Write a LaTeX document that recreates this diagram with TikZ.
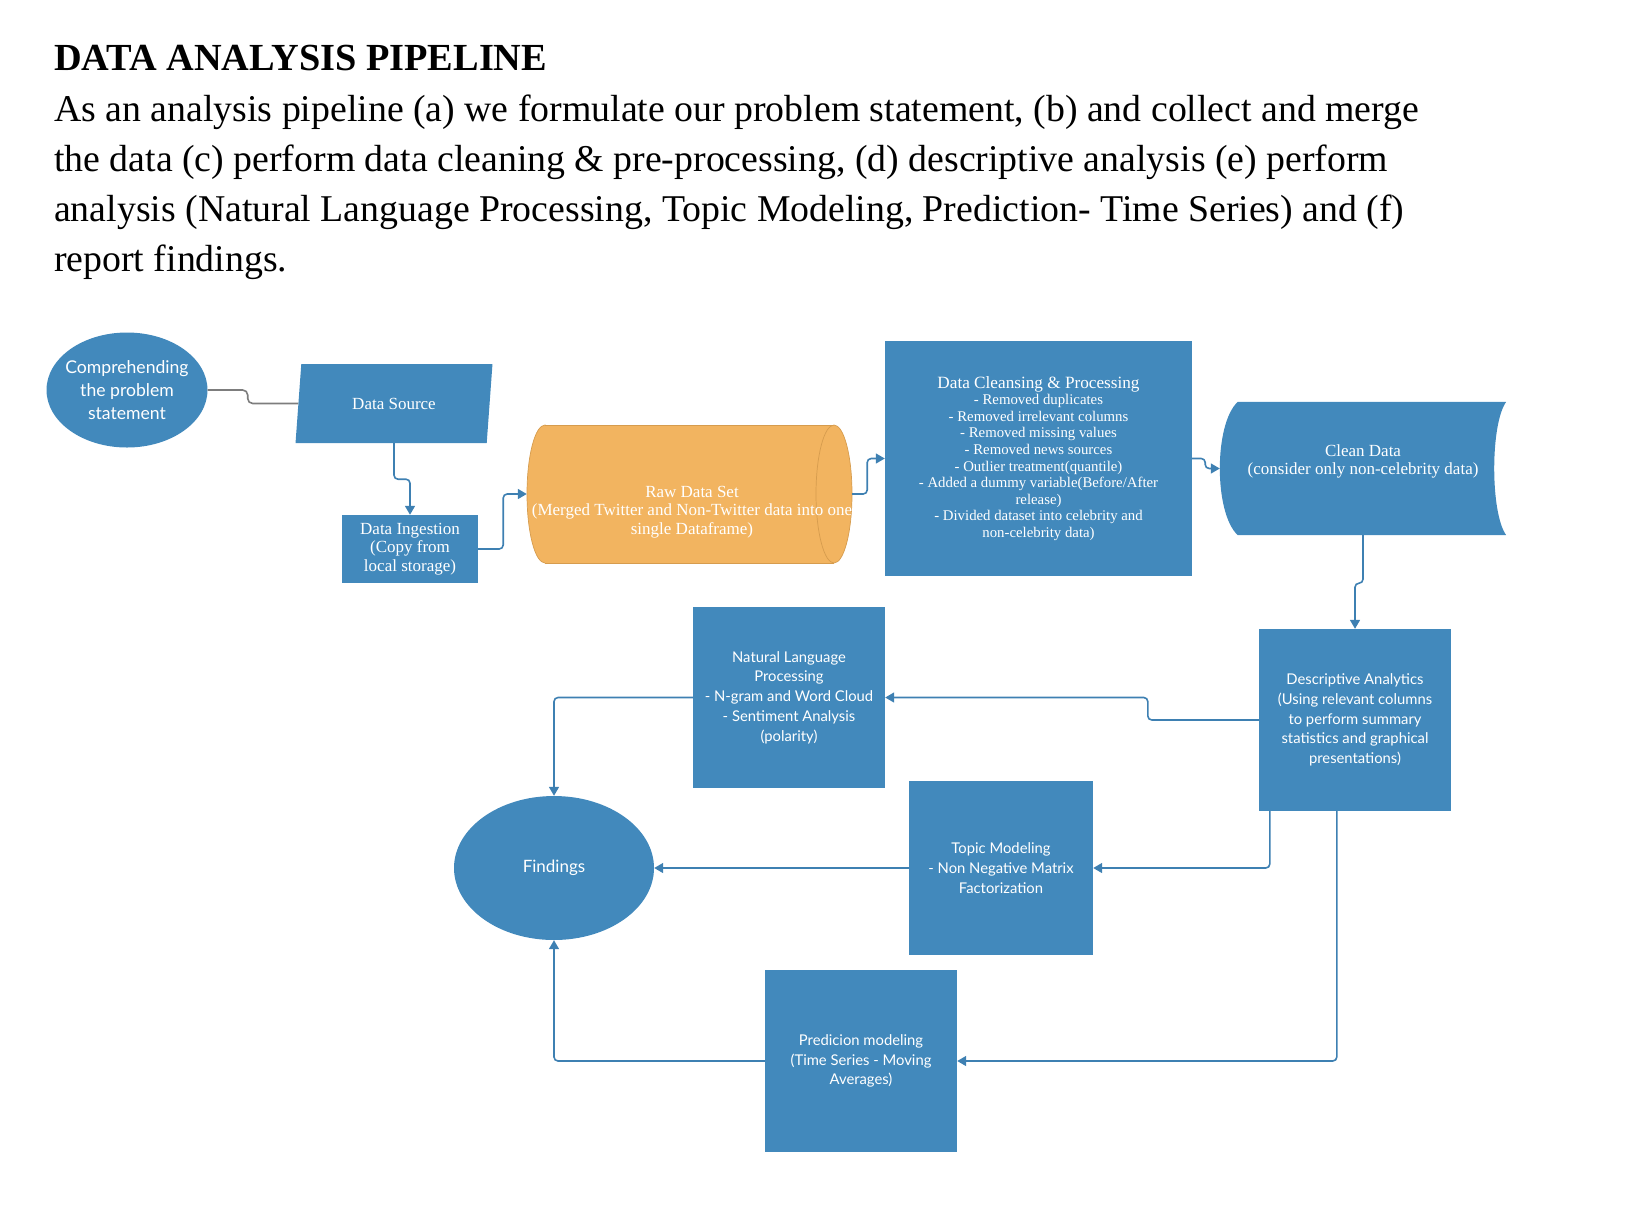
\documentclass[tikz,border=0pt]{standalone}
\usepackage{fontspec}
\setmainfont{Liberation Serif}
\newfontfamily\latofont{Lato}
\usetikzlibrary{calc, shapes.geometric, arrows.meta, backgrounds}

\definecolor{boxblue}{RGB}{66,137,188}
\definecolor{lineblue}{RGB}{62,128,178}
\definecolor{rawfill}{RGB}{242,180,96}
\definecolor{rawline}{RGB}{214,156,78}
\definecolor{linkgray}{RGB}{125,125,125}

\begin{document}
\begin{tikzpicture}[
    x=1pt, y=-1pt,
    box/.style={rectangle, fill=boxblue, text=white, align=center, inner sep=2pt},
    serifbox/.style={box, font=\fontsize{17}{18.8}\selectfont},
    sansbox/.style={box, font=\latofont\fontsize{14.8}{19.8}\selectfont},
    oval/.style={ellipse, fill=boxblue, text=white, align=center, inner sep=0pt},
    link/.style={draw=lineblue, line width=1.6pt, rounded corners=4pt, -{Triangle[length=9pt,width=10pt]}}
]

    % 1. Moldura da figura
    \useasboundingbox (0,0) rectangle (1632,1208);

    % 2. Titulo e paragrafo (a ancora base fica na ultima linha)
    \node[anchor=base west, inner sep=0pt, font=\bfseries\fontsize{38.3}{50}\selectfont] (title) at (54,70) {DATA ANALYSIS PIPELINE};
    \node[anchor=base west, inner sep=0pt, align=left, font=\fontsize{37.8}{50}\selectfont] (intro) at (54,271)
        {As an analysis pipeline (a) we formulate our problem statement, (b) and collect and merge\\
         the data (c) perform data cleaning \& pre-processing, (d) descriptive analysis (e) perform\\
         analysis (Natural Language Processing, Topic Modeling, Prediction- Time Series) and (f)\\
         report findings.};

    % 3. Primeira linha do fluxo
    \node[oval, inner sep=-8pt, minimum width=161pt, minimum height=115pt, font=\latofont\fontsize{17.6}{22.9}\selectfont] (comp) at (127,390) {Comprehending\\the problem\\statement};
    \node[box, trapezium, trapezium left angle=80, trapezium right angle=100, trapezium stretches=true,
          minimum width=198pt, minimum height=79pt, font=\fontsize{17}{18.8}\selectfont] (src) at (394,403.5) {Data Source};
    \node[serifbox, minimum width=136pt, minimum height=68pt] (ingest) at (410,549) {Data Ingestion\\(Copy from\\local storage)};

    % cilindro (dados brutos): corpo + duas tampas elipticas
    \node[minimum width=325pt, minimum height=138pt, inner sep=0pt] (raw) at (689.5,494) {};
    \begin{scope}[on background layer, shift={(raw.center)}]
        \filldraw[fill=rawfill, draw=rawline, line width=0.7pt] (-144.5,0) ellipse [x radius=18, y radius=69];
        \fill[rawfill] (-144.5,-69) rectangle (144.5,69);
        \draw[rawline, line width=0.7pt] (-144.5,-69) -- (144.5,-69) (-144.5,69) -- (144.5,69);
        \filldraw[fill=rawfill, draw=rawline, line width=0.7pt] (144.5,0) ellipse [x radius=18, y radius=69];
    \end{scope}
    \node[text=white, align=center, inner sep=0pt, font=\fontsize{17}{18.8}\selectfont] (rawtxt) at (692,512) {Raw Data Set\\(Merged Twitter and Non-Twitter data into one\\single Dataframe)};

    \node[box, minimum width=307pt, minimum height=235pt, font=\fontsize{14.8}{16.6}\selectfont] (clean) at (1038.5,458.5)
        {{\fontsize{17.2}{16.6}\selectfont Data Cleansing \& Processing}\\
         - Removed duplicates\\
         - Removed irrelevant columns\\
         - Removed missing values\\
         - Removed news sources\\
         - Outlier treatment(quantile)\\
         - Added a dummy variable(Before/After\\
         release)\\
         - Divided dataset into celebrity and\\
         non-celebrity data)};

    % dados limpos (lado esquerdo convexo, lado direito concavo)
    \node[minimum width=286pt, minimum height=133pt, text depth=18pt, text=white, align=center, font=\fontsize{17}{18.8}\selectfont] (cdata) at (1363,468.5)
        {Clean Data\\(consider only non-celebrity data)};
    \begin{scope}[on background layer]
        \fill[boxblue] ($(cdata.north west)+(18,0)$) -- (cdata.north east)
            .. controls ($(cdata.north east)+(-16,22)$) and ($(cdata.south east)+(-16,-22)$) .. (cdata.south east)
            -- ($(cdata.south west)+(18,0)$)
            .. controls ($(cdata.south west)+(-6,-22)$) and ($(cdata.north west)+(-6,22)$) .. cycle;
    \end{scope}

    % 4. Analises
    \node[sansbox, minimum width=192pt, minimum height=182pt] (desc) at (1355,720)
        {Descriptive Analytics\\(Using relevant columns\\to perform summary\\statistics and graphical\\presentations)};
    \node[sansbox, minimum width=192pt, minimum height=181pt] (nlp) at (789,697.5)
        {Natural Language\\Processing\\- N-gram and Word Cloud\\- Sentiment Analysis\\(polarity)};
    \node[sansbox, minimum width=184pt, minimum height=174pt] (topic) at (1001,868)
        {Topic Modeling\\- Non Negative Matrix\\Factorization};
    \node[sansbox, minimum width=192pt, minimum height=182pt] (pred) at (861,1061)
        {Predicion modeling\\(Time Series - Moving\\Averages)};
    \node[oval, minimum width=200pt, minimum height=144pt, font=\latofont\fontsize{17}{20}\selectfont] (find) at (554,868) {Findings};

    % 5. Conexoes
    \draw[draw=linkgray, line width=1.6pt, rounded corners=5pt] (comp.east) -- ++(40,0) |- (src.west);
    \draw[link] (src.center |- src.south) -- ++(0,36) -| (ingest.north);
    \draw[link] (ingest.east) -- ++(25,0) |- (raw.west);
    \draw[link] (raw.east) -- ++(15,0) |- (clean.west);
    \draw[link] (clean.east) -- ++(13,0) |- (cdata.west);
    \draw[link] (cdata.south) -- ++(0,48) -| (desc.north);
    \draw[link] (desc.west) -- ++(-111,0) |- (nlp.east);
    \draw[link] ([xshift=11pt]desc.south west) |- (topic.east);
    \draw[link] ([xshift=78pt]desc.south west) |- (pred.east);
    \draw[link] (topic.west) -- (find.east);
    \draw[link] (nlp.west) -| (find.north);
    \draw[link] (pred.west) -| (find.south);

\end{tikzpicture}
\end{document}
